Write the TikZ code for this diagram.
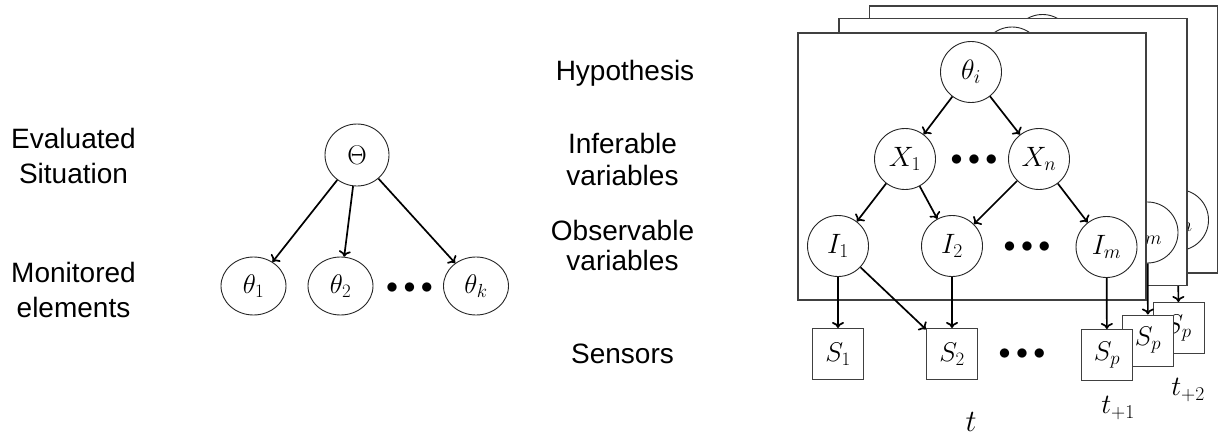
\RequirePackage{fix-cm}
\documentclass[tikz,border=0pt]{standalone}
\usepackage{fontspec}
\setsansfont{Liberation Sans}
\usetikzlibrary{arrows.meta,shapes.geometric}
\tikzset{
  lbl/.style={font=\sffamily\fontsize{28}{34}\selectfont, anchor=base, inner sep=0pt},
  var/.style={circle, draw=black!85, line width=0.9pt, minimum size=61pt, inner sep=0pt, fill=white, font=\fontsize{28}{34}\selectfont},
  mon/.style={ellipse, draw=black!85, line width=0.9pt, minimum width=65pt, minimum height=58pt, inner sep=0pt, fill=white, font=\fontsize{27}{32}\selectfont},
  sensor/.style={rectangle, draw=black!75, line width=1pt, minimum size=51pt, inner sep=0pt, fill=white, font=\fontsize{27}{32}\selectfont},
  sheet/.style={draw=black!75, line width=1.2pt, fill=white},
  edge/.style={line width=1.7pt, -{To[length=6pt,width=12pt]}},
  dotsnode/.style={font=\fontsize{24}{28}\selectfont, inner sep=0pt},
  tlab/.style={font=\fontsize{31}{36}\selectfont, inner sep=0pt},
  tlabs/.style={font=\fontsize{28}{32}\selectfont, inner sep=0pt}
}
\newcommand{\slice}[1]{%
  \draw[sheet] (798,33) rectangle (1146,300);
  \node[var] (th#1) at (971,72) {$\theta_i$};
  \node[var] (xa#1) at (905,159) {$X_1$};
  \node[var] (xn#1) at (1039,159) {$X_n$};
  \node[dotsnode] (dx#1) at (974,160) {$\bullet\bullet\bullet$};
  \node[var] (ia#1) at (838,246) {$I_1$};
  \node[var] (ib#1) at (952,246) {$I_2$};
  \node[dotsnode] (di#1) at (1027,247) {$\bullet\bullet\bullet$};
  \node[var] (im#1) at (1106.5,247) {$I_m$};
  \node[sensor] (sp#1) at (1107,355) {$S_p$};
  \draw[edge] (th#1) -- (xa#1);
  \draw[edge] (th#1) -- (xn#1);
  \draw[edge] (xa#1) -- (ia#1);
  \draw[edge] (xa#1) -- (ib#1);
  \draw[edge] (xn#1) -- (ib#1);
  \draw[edge] (xn#1) -- (im#1);
  \draw[edge] (im#1) -- (sp#1);
}
\begin{document}
\begin{tikzpicture}[x=1pt,y=-1pt]
\useasboundingbox (0,0) rectangle (1220,436);
% left labels
\node[lbl] (ev1) at (73.5,148) {Evaluated};
\node[lbl] (ev2) at (73.5,183) {Situation};
\node[lbl] (mo1) at (73.5,282) {Monitored};
\node[lbl] (mo2) at (73.5,317) {elements};
% right labels
\node[lbl] (hy) at (625,80.5) {Hypothesis};
\node[lbl] (in1) at (622.5,153.5) {Inferable};
\node[lbl] (in2) at (622.5,185) {variables};
\node[lbl] (ob1) at (622.5,240) {Observable};
\node[lbl] (ob2) at (622.5,270) {variables};
\node[lbl] (se) at (622.5,363) {Sensors};
% left graph
\node[mon, minimum height=62pt, minimum width=64pt] (Th) at (357,155) {$\Theta$};
\node[mon] (t1) at (253.5,286) {$\theta_1$};
\node[mon] (t2) at (340.5,286) {$\theta_2$};
\node[dotsnode] (td) at (409.5,288) {$\bullet\bullet\bullet$};
\node[mon] (tk) at (476,286) {$\theta_k$};
\draw[edge] (Th) -- (t1);
\draw[edge] (Th) -- (t2);
\draw[edge] (Th) -- (tk);
% stacked slices
\begin{scope}[shift={(71.5,-27)}]\slice{c}\end{scope}
\begin{scope}[shift={(41,-14.5)}]\slice{b}\end{scope}
\slice{a}
\node[sensor] (s1) at (838,354) {$S_1$};
\node[sensor] (s2) at (952,354) {$S_2$};
\node[dotsnode] (ds) at (1022,354) {$\bullet\bullet\bullet$};
\draw[edge] (iaa) -- (s1);
\draw[edge] (iaa) -- (s2);
\draw[edge] (iba) -- (s2);
\node[tlab] (tt) at (971,422) {$t$};
\node[tlabs] (tt1) at (1118,408) {$t_{+1}$};
\node[tlabs] (tt2) at (1188,390) {$t_{+2}$};
\end{tikzpicture}
\end{document}
